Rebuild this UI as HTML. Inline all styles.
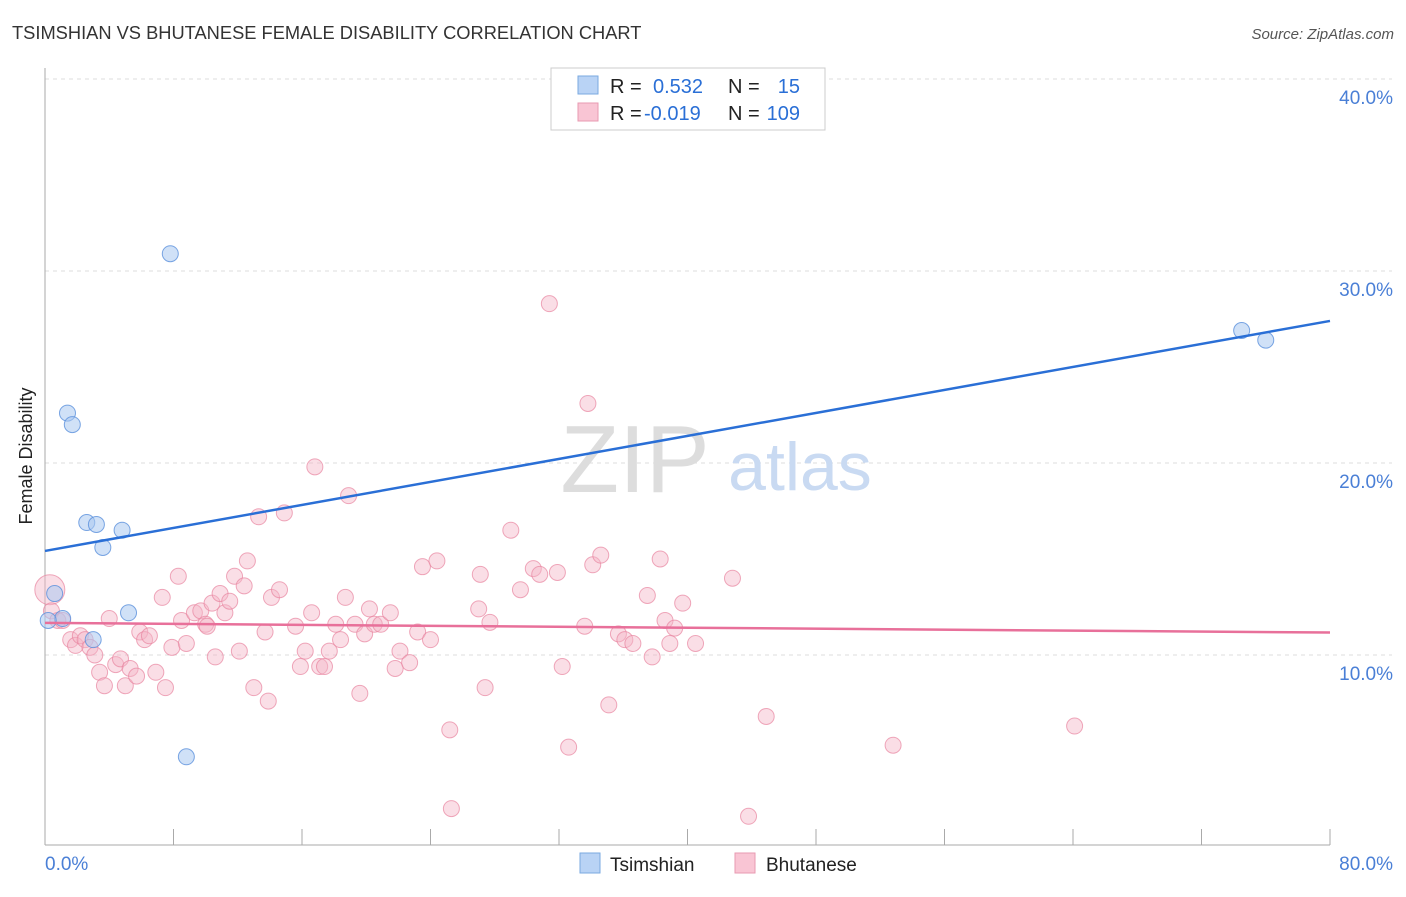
<!DOCTYPE html>
<html><head><meta charset="utf-8"><style>
body{margin:0;background:#fff;font-family:"Liberation Sans",sans-serif}
svg text{font-family:"Liberation Sans",sans-serif}
</style></head><body>
<svg id="c" width="1406" height="892">
<text x="12" y="39" font-size="18.3" fill="#333">TSIMSHIAN VS BHUTANESE FEMALE DISABILITY CORRELATION CHART</text>
<text x="1394" y="39" font-size="15" fill="#555" text-anchor="end" font-style="italic">Source: ZipAtlas.com</text>
<text x="32" y="456" font-size="18" fill="#222" text-anchor="middle" transform="rotate(-90 32 456)">Female Disability</text>
<g id="grid"></g>
<text x="635" y="492" font-size="96" fill="#ddd" font-family="Liberation Serif" text-anchor="middle">ZIP</text>
<text x="800" y="490" font-size="68" fill="#c9daf2" text-anchor="middle">atlas</text>
<g id="pts"></g>
<g id="lines"></g>
<g>
<rect x="551" y="68" width="274" height="62" fill="#fff" stroke="#ccc"/>
<rect x="578" y="76" width="20" height="18" fill="#b9d3f5" stroke="#7aaae0"/>
<rect x="578" y="103" width="20" height="18" fill="#f9c5d4" stroke="#e89ab2"/>
<text x="610" y="93" font-size="20" fill="#222">R =</text><text x="653" y="93" font-size="20" fill="#2a6fd6">0.532</text>
<text x="728" y="93" font-size="20" fill="#222">N =</text><text x="800" y="93" font-size="20" fill="#2a6fd6" text-anchor="end">15</text>
<text x="610" y="120" font-size="20" fill="#222">R =</text><text x="644" y="120" font-size="20" fill="#2a6fd6">-0.019</text>
<text x="728" y="120" font-size="20" fill="#222">N =</text><text x="800" y="120" font-size="20" fill="#2a6fd6" text-anchor="end">109</text>
</g>
<g>
<rect x="580" y="853" width="20" height="20" fill="#b9d3f5" stroke="#7aaae0"/>
<text x="610" y="871" font-size="19" fill="#222">Tsimshian</text>
<rect x="735" y="853" width="20" height="20" fill="#f9c5d4" stroke="#e89ab2"/>
<text x="766" y="871" font-size="19" fill="#222">Bhutanese</text>
</g>
</svg>
<script>
const yTicks=[10,20,30,40];
const xTickCount=10;
const blueX=[0.6,1.1,1.4,1.7,2.6,3.2,3.6,4.8,3.0,5.2,7.8,8.8,74.5,76.0,0.2];
const blueY=[13.2,11.9,22.6,22.0,16.9,16.8,15.6,16.5,10.8,12.2,30.9,4.7,26.9,26.4,11.8];
const pinkX=[0.3,0.4,0.8,1.1,1.6,1.9,2.2,2.5,2.8,3.1,3.4,3.7,4.0,4.4,4.7,5.0,5.3,5.7,5.9,6.2,6.5,6.9,7.3,7.5,7.9,8.3,8.5,8.8,9.3,9.7,10.0,10.1,10.4,10.6,10.9,11.2,11.5,11.8,12.1,12.4,12.6,13.0,13.3,13.7,13.9,14.1,14.6,14.9,15.6,15.9,16.2,16.6,16.8,17.1,17.4,17.7,18.1,18.4,18.7,18.9,19.3,19.6,19.9,20.2,20.5,20.9,21.5,21.8,22.1,22.7,23.2,23.5,24.0,24.4,25.2,25.3,27.0,27.1,27.4,27.7,29.0,29.6,30.4,30.8,31.4,31.9,32.2,32.6,33.6,33.8,34.1,34.6,35.1,35.7,36.1,36.6,37.5,37.8,38.3,38.6,38.9,39.2,39.7,40.5,42.8,43.8,44.9,52.8,64.1];
const pinkY=[13.4,12.3,11.8,11.8,10.8,10.5,11.0,10.8,10.4,10.0,9.1,8.4,11.9,9.5,9.8,8.4,9.3,8.9,11.2,10.8,11.0,9.1,13.0,8.3,10.4,14.1,11.8,10.6,12.2,12.3,11.6,11.5,12.7,9.9,13.2,12.2,12.8,14.1,10.2,13.6,14.9,8.3,17.2,11.2,7.6,13.0,13.4,17.4,11.5,9.4,10.2,12.2,19.8,9.4,9.4,10.2,11.6,10.8,13.0,18.3,11.6,8.0,11.1,12.4,11.6,11.6,12.2,9.3,10.2,9.6,11.2,14.6,10.8,14.9,6.1,2.0,12.4,14.2,8.3,11.7,16.5,13.4,14.5,14.2,28.3,14.3,9.4,5.2,11.5,23.1,14.7,15.2,7.4,11.1,10.8,10.6,13.1,9.9,15.0,11.8,10.6,11.4,12.7,10.6,14.0,1.6,6.8,5.3,6.3];
const blueLine=[15.42,27.4];
const pinkLine=[11.67,11.17];
const X0=45,X1=1330,Y0=847,PXY=19.2;
const sx=v=>X0+v*(X1-X0)/80, sy=v=>Y0-v*PXY;
const NS="http://www.w3.org/2000/svg";
function mk(t,a,p){const e=document.createElementNS(NS,t);for(const k in a)e.setAttribute(k,a[k]);p.appendChild(e);return e;}
const g=document.getElementById('grid');
yTicks.forEach(t=>{
 const l=mk('line',{x1:45,x2:1392,y1:sy(t),y2:sy(t),stroke:'#ddd','stroke-dasharray':'4,4'},g);
 
 
 const tx=mk('text',{x:1393,y:sy(t)+25,'font-size':19,fill:'#4a7fd6','text-anchor':'end'},g);
 tx.textContent=t.toFixed(1)+'%';
 
 
});
const ax=mk('line',{x1:45,x2:45,y1:68,y2:845,stroke:'#aaa'},g);


const bx=mk('line',{x1:45,x2:1330,y1:845,y2:845,stroke:'#aaa'},g);


for(let i=0;i<=xTickCount;i++){
 const x=sx(i*80/xTickCount);
 const t=mk('line',{x1:x,x2:x,y1:829,y2:845,stroke:'#aaa'},g);
 
 
}
[[0,'0.0%','start',45],[80,'80.0%','end',1393]].forEach(d=>{
 const t=mk('text',{x:d[3],y:870,'font-size':19,fill:'#4a7fd6','text-anchor':d[2]},g);
 t.textContent=d[1];
 
 
});
const p=document.getElementById('pts');
pinkX.forEach((x,i)=>{
 const c=mk('circle',{cx:sx(x),cy:sy(pinkY[i]),r:i==0?15:8,fill:'#f5b5c8','fill-opacity':0.45,stroke:'#e8859f','stroke-opacity':0.7},p);
 
 
});
blueX.forEach((x,i)=>{
 const c=mk('circle',{cx:sx(x),cy:sy(blueY[i]),r:8,fill:'#a9c8f0','fill-opacity':0.55,stroke:'#5a90dc','stroke-opacity':0.8},p);
 
 
});
const L=document.getElementById('lines');
const bl=mk('line',{x1:sx(0),x2:sx(80),y1:sy(blueLine[0]),y2:sy(blueLine[1]),stroke:'#2a6fd6','stroke-width':2.5},L);


const pl=mk('line',{x1:sx(0),x2:sx(80),y1:sy(pinkLine[0]),y2:sy(pinkLine[1]),stroke:'#e8709a','stroke-width':2.5},L);


</script>
</body></html>
